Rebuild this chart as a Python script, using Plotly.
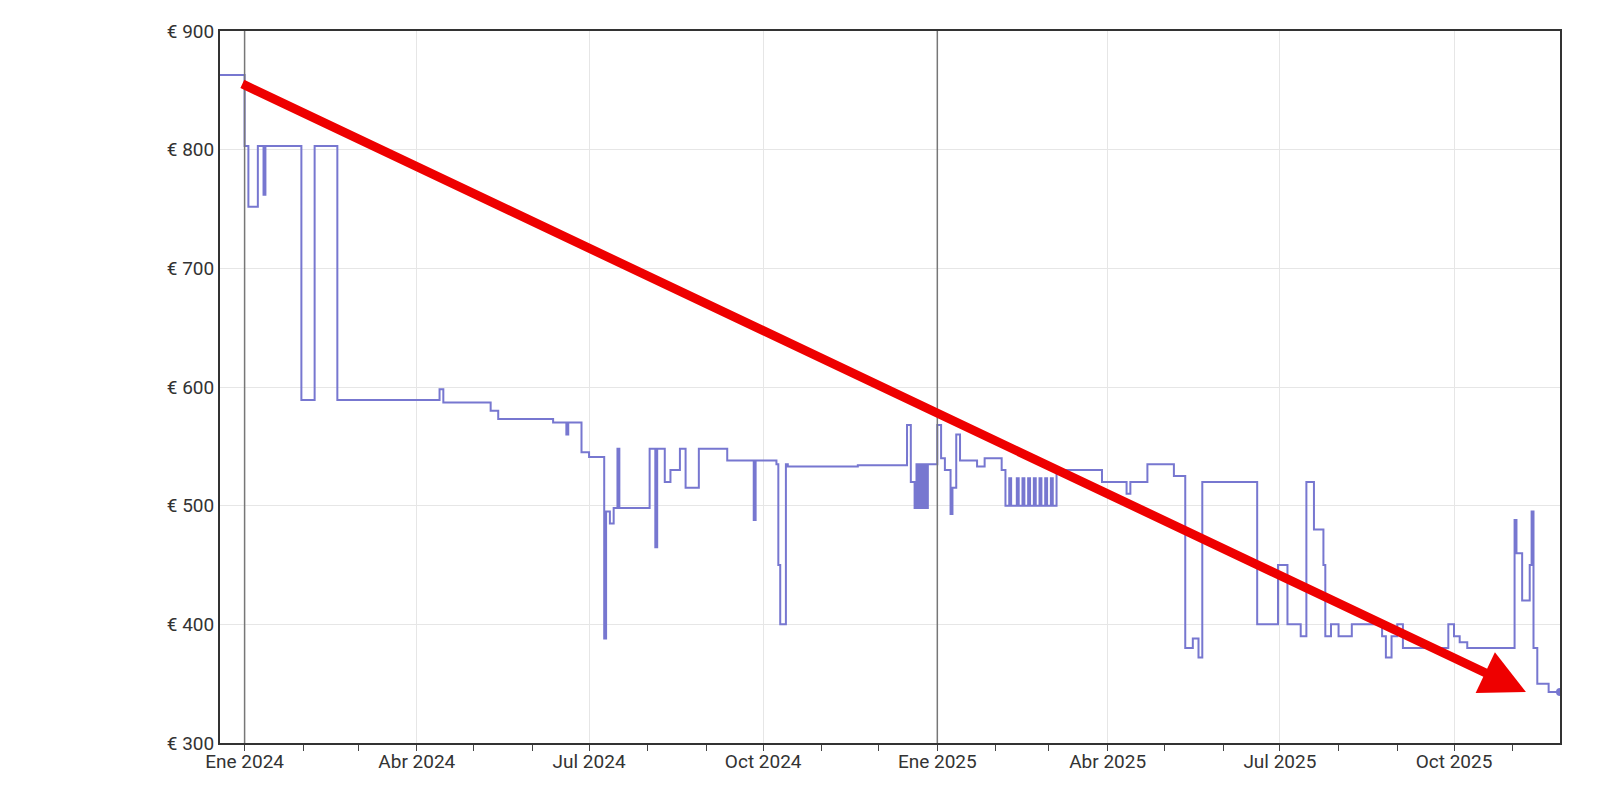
import plotly.graph_objects as go

dates = [
 "2023-12-19","2024-01-01","2024-01-03","2024-01-08","2024-01-11","2024-01-12","2024-01-31","2024-02-07","2024-02-19",
 "2024-04-13","2024-04-15","2024-05-10","2024-05-14","2024-06-12","2024-06-19","2024-06-20","2024-06-27","2024-07-01",
 "2024-07-09","2024-07-10","2024-07-12","2024-07-14","2024-07-16","2024-07-17","2024-08-02","2024-08-05","2024-08-06",
 "2024-08-10","2024-08-13","2024-08-18","2024-08-21","2024-08-28","2024-09-12","2024-09-26","2024-09-27","2024-10-08",
 "2024-10-09","2024-10-10","2024-10-13","2024-10-14","2024-11-20","2024-12-16","2024-12-18","2024-12-20","2024-12-21",
 "2024-12-22","2024-12-23","2024-12-24","2024-12-25","2024-12-26","2024-12-27","2025-01-01","2025-01-03","2025-01-05",
 "2025-01-08","2025-01-09","2025-01-11","2025-01-13","2025-01-22","2025-01-26","2025-02-04","2025-02-06","2025-02-08",
 "2025-02-09","2025-02-12","2025-02-13","2025-02-15","2025-02-16","2025-02-18","2025-02-19","2025-02-21","2025-02-22",
 "2025-02-24","2025-02-25","2025-02-27","2025-02-28","2025-03-02","2025-03-03","2025-03-05","2025-03-29","2025-04-11",
 "2025-04-13","2025-04-22","2025-05-06","2025-05-12","2025-05-16","2025-05-19","2025-05-21","2025-06-19","2025-06-30",
 "2025-07-05","2025-07-12","2025-07-15","2025-07-19","2025-07-24","2025-07-25","2025-07-28","2025-08-01","2025-08-08",
 "2025-08-24","2025-08-26","2025-08-29","2025-09-01","2025-09-04","2025-09-28","2025-10-01","2025-10-04","2025-10-08",
 "2025-11-02","2025-11-03","2025-11-06","2025-11-10","2025-11-11","2025-11-12","2025-11-14","2025-11-20","2025-11-26"]
prices = [
 863,803,752,803,762,803,589,803,589,
 598,587,580,573,570,560,570,545,541,
 388,495,485,498,548,498,548,465,548,
 520,530,548,515,548,538,488,538,535,
 450,400,535,533,534,568,520,498,535,
 498,535,498,535,498,535,568,540,530,
 493,515,560,538,533,540,530,500,523,
 500,523,500,523,500,523,500,523,500,
 523,500,523,500,523,500,530,520,510,
 520,535,525,380,388,372,520,400,450,
 400,390,520,480,450,390,400,390,400,
 390,372,390,400,380,400,390,385,380,
 488,460,420,450,495,380,350,343,343]

tick_vals = ["2024-01-01","2024-04-01","2024-07-01","2024-10-01","2025-01-01","2025-04-01","2025-07-01","2025-10-01"]
tick_text = ["Ene 2024","Abr 2024","Jul 2024","Oct 2024","Ene 2025","Abr 2025","Jul 2025","Oct 2025"]
y_ticks = [300,400,500,600,700,800,900]
y_text = ["€ 300","€ 400","€ 500","€ 600","€ 700","€ 800","€ 900"]

fig = go.Figure()
fig.add_trace(go.Scatter(x=dates, y=prices, mode="lines", line=dict(shape="hv", color="#7777d0", width=2),
                         hoverinfo="skip"))
fig.add_trace(go.Scatter(x=[dates[-1]], y=[prices[-1]], mode="markers",
                         marker=dict(color="#7777d0", size=8)))

for d in ["2024-01-01", "2025-01-01"]:
    fig.add_shape(type="line", xref="x", yref="paper", x0=d, x1=d, y0=0, y1=1,
                  line=dict(color="#777", width=1.5))

fig.add_annotation(x="2025-11-08", y=343, ax="2023-12-30", ay=856, xref="x", yref="y",
                   axref="x", ayref="y", text="", showarrow=True, arrowhead=2,
                   arrowsize=1.0, arrowwidth=9, arrowcolor="#ee0000")

fig.update_layout(
    width=1600, height=786, showlegend=False, plot_bgcolor="white", paper_bgcolor="white",
    margin=dict(l=212, r=48, t=12, b=51),
    font=dict(family="Roboto", size=19, color="#333"),
    xaxis=dict(range=["2023-12-19", "2025-11-26"], tickvals=tick_vals, ticktext=tick_text,
               showgrid=True, gridcolor="#e6e6e6", showline=True, linecolor="#333", linewidth=2,
               mirror=True, ticks="", minor=dict(dtick="M1", tick0="2024-01-01", ticks="outside",
               ticklen=6, tickcolor="#444", showgrid=False)),
    yaxis=dict(range=[300, 900], tickvals=y_ticks, ticktext=y_text, showgrid=True, gridcolor="#e6e6e6",
               showline=True, linecolor="#333", linewidth=2, mirror=True, zeroline=False),
)
fig.write_html("out.html")
